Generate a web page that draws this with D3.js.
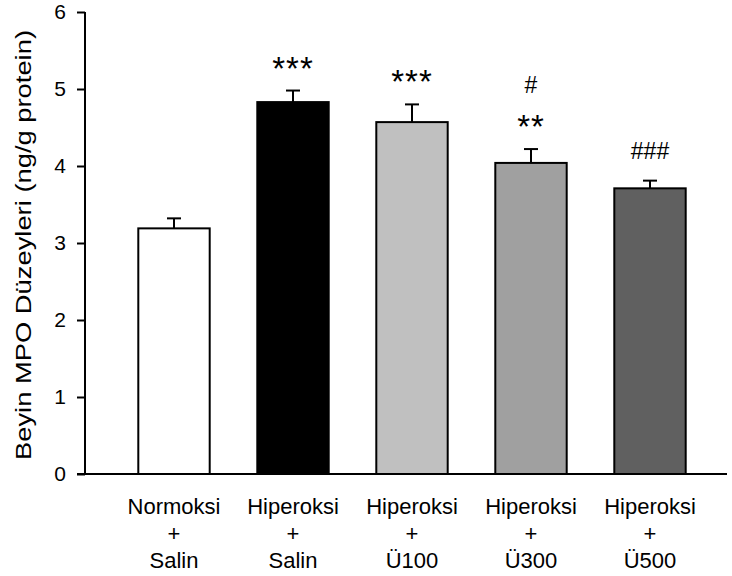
<!DOCTYPE html>
<html>
<head>
<meta charset="utf-8">
<script src="https://cdn.jsdelivr.net/npm/d3@7"></script>
<style>
  body { margin: 0; background: #fff; }
  text { font-family: "Liberation Sans", Arial, sans-serif; }
</style>
</head>
<body>
<svg id="chart" width="732" height="576"></svg>
<script>
const groups = ["Normoksi + Salin", "Hiperoksi + Salin", "Hiperoksi + Ü100", "Hiperoksi + Ü300", "Hiperoksi + Ü500"];
const labelLines = [["Normoksi", "+", "Salin"], ["Hiperoksi", "+", "Salin"], ["Hiperoksi", "+", "Ü100"], ["Hiperoksi", "+", "Ü300"], ["Hiperoksi", "+", "Ü500"]];
const means = [3.19, 4.83, 4.57, 4.04, 3.71];
const errors = [0.13, 0.15, 0.23, 0.18, 0.10];
const fills = ["#ffffff", "#000000", "#c0c0c0", "#a0a0a0", "#606060"];
const marks = [[], ["***"], ["***"], ["**", "#"], ["###"]];
const yTicks = [0, 1, 2, 3, 4, 5, 6];

const svg = d3.select("#chart");

const x = d3.scaleBand()
    .domain(groups)
    .range([114.5, 709.5])
    .paddingInner(0.4)
    .paddingOuter(0.2);

const y = d3.scaleLinear()
    .domain([0, 6])
    .range([474, 12]);

// y axis
const yAxis = svg.append("g")
    .attr("transform", "translate(85,0)")
    .call(d3.axisLeft(y).tickValues(yTicks).tickFormat(d3.format("d")).tickSize(8).tickPadding(11));
yAxis.select(".domain").attr("stroke", "#000").attr("stroke-width", 2).attr("d", `M0,${y(6)}V${y(0)}`);
yAxis.selectAll(".tick line").attr("stroke", "#000").attr("stroke-width", 2);
yAxis.selectAll(".tick text").attr("fill", "#000")
    .style("font-size", "21px")
    .style("font-family", "'Liberation Sans', Arial, sans-serif");

const data = groups.map((g, i) => ({ g, m: means[i], e: errors[i], fill: fills[i], marks: marks[i], lines: labelLines[i] }));

// error bars (behind bars)
const err = svg.append("g").selectAll("g").data(data).join("g");
err.append("line")
    .attr("x1", d => x(d.g) + x.bandwidth() / 2)
    .attr("x2", d => x(d.g) + x.bandwidth() / 2)
    .attr("y1", d => y(d.m))
    .attr("y2", d => y(d.m + d.e))
    .attr("stroke", "#000").attr("stroke-width", 2);
err.append("line")
    .attr("x1", d => x(d.g) + x.bandwidth() / 2 - 7)
    .attr("x2", d => x(d.g) + x.bandwidth() / 2 + 7)
    .attr("y1", d => y(d.m + d.e))
    .attr("y2", d => y(d.m + d.e))
    .attr("stroke", "#000").attr("stroke-width", 2);

// bars
svg.append("g").selectAll("rect").data(data).join("rect")
    .attr("x", d => x(d.g))
    .attr("y", d => y(d.m))
    .attr("width", x.bandwidth())
    .attr("height", d => y(0) - y(d.m))
    .attr("fill", d => d.fill)
    .attr("stroke", "#000")
    .attr("stroke-width", 2);

// x axis line
svg.append("line")
    .attr("x1", 77).attr("x2", 727)
    .attr("y1", y(0)).attr("y2", y(0))
    .attr("stroke", "#000").attr("stroke-width", 2);

// significance marks
data.forEach(d => {
    const top = y(d.m + d.e);
    const cx = x(d.g) + x.bandwidth() / 2;
    d.marks.forEach((m, k) => {
        const isStar = m.startsWith("*");
        let by;
        if (isStar) by = top - 11;
        else if (k === 0) by = top - 22;
        else by = top - 56;
        svg.append("text")
            .attr("x", cx)
            .attr("y", by)
            .attr("text-anchor", "middle")
            .style("font-size", isStar ? "33px" : "23px")
            .style("letter-spacing", isStar ? "1px" : "0px")
            .attr("fill", "#000")
            .text(m);
    });
});

// x labels
const lab = svg.append("g").selectAll("text").data(data).join("text")
    .attr("x", d => x(d.g) + x.bandwidth() / 2)
    .attr("y", 514)
    .attr("text-anchor", "middle")
    .style("font-size", "22px")
    .attr("fill", "#000");
lab.selectAll("tspan").data(d => d.lines).join("tspan")
    .attr("x", function () { return d3.select(this.parentNode).attr("x"); })
    .attr("dy", (d, i) => i === 0 ? 0 : 27)
    .text(d => d);

// y title
svg.append("text")
    .attr("transform", "translate(31,245) rotate(-90)")
    .attr("text-anchor", "middle")
    .style("font-size", "22px")
    .attr("textLength", 430)
    .attr("lengthAdjust", "spacingAndGlyphs")
    .attr("fill", "#000")
    .text("Beyin MPO Düzeyleri (ng/g protein)");
</script>
</body>
</html>
